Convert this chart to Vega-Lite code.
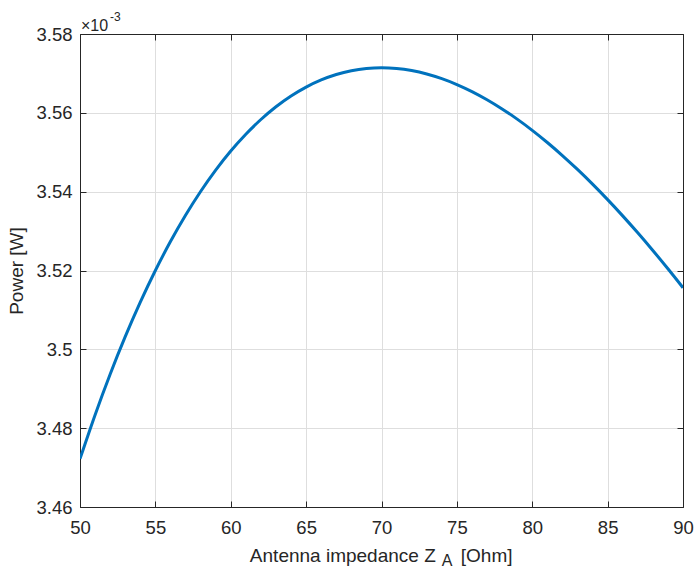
{
  "$schema": "https://vega.github.io/schema/vega-lite/v6.json",
  "width": 603,
  "height": 473,
  "autosize": {"type": "none"},
  "padding": {"left": 80, "top": 34, "right": 13, "bottom": 63},
  "background": "white",
  "config": {
    "font": "Liberation Sans",
    "view": {"stroke": "#262626", "strokeWidth": 1},
    "axis": {
      "domainColor": "#262626",
      "tickColor": "#262626",
      "labelColor": "#262626",
      "titleColor": "#262626",
      "gridColor": "#dedede",
      "labelFont": "Liberation Sans",
      "titleFont": "Liberation Sans",
      "titleFontWeight": "normal"
    }
  },
  "resolve": {"axis": {"x": "independent", "y": "independent"}},
  "layer": [
    {
      "data": {
        "values": [
          {"z": 50, "p": 3.47222}, {"z": 51, "p": 3.48337}, {"z": 52, "p": 3.49369},
          {"z": 53, "p": 3.50321}, {"z": 54, "p": 3.51197}, {"z": 55, "p": 3.52000},
          {"z": 56, "p": 3.52734}, {"z": 57, "p": 3.53401}, {"z": 58, "p": 3.54004},
          {"z": 59, "p": 3.54546}, {"z": 60, "p": 3.55030}, {"z": 61, "p": 3.55457},
          {"z": 62, "p": 3.55831}, {"z": 63, "p": 3.56154}, {"z": 64, "p": 3.56427},
          {"z": 65, "p": 3.56653}, {"z": 66, "p": 3.56834}, {"z": 67, "p": 3.56972},
          {"z": 68, "p": 3.57068}, {"z": 69, "p": 3.57124}, {"z": 70, "p": 3.57143},
          {"z": 71, "p": 3.57125}, {"z": 72, "p": 3.57072}, {"z": 73, "p": 3.56986},
          {"z": 74, "p": 3.56867}, {"z": 75, "p": 3.56718}, {"z": 76, "p": 3.56540},
          {"z": 77, "p": 3.56333}, {"z": 78, "p": 3.56099}, {"z": 79, "p": 3.55840},
          {"z": 80, "p": 3.55556}, {"z": 81, "p": 3.55248}, {"z": 82, "p": 3.54917},
          {"z": 83, "p": 3.54564}, {"z": 84, "p": 3.54191}, {"z": 85, "p": 3.53798},
          {"z": 86, "p": 3.53386}, {"z": 87, "p": 3.52956}, {"z": 88, "p": 3.52508},
          {"z": 89, "p": 3.52043}, {"z": 90, "p": 3.51563}
        ]
      },
      "layer": [
        {
          "mark": {"type": "line", "color": "#0072BD", "strokeWidth": 3, "interpolate": "monotone", "clip": true},
          "encoding": {
            "x": {
              "field": "z", "type": "quantitative",
              "scale": {"domain": [50, 90], "nice": false, "zero": false},
              "axis": {
                "orient": "bottom",
                "values": [50, 55, 60, 65, 70, 75, 80, 85, 90],
                "tickSize": -6,
                "labelPadding": 17,
                "labelFontSize": 18.5,
                "labelFlush": false,
                "title": null,
                "grid": true
              }
            },
            "y": {
              "field": "p", "type": "quantitative",
              "scale": {"domain": [3.46, 3.58], "nice": false, "zero": false},
              "axis": {
                "orient": "left",
                "values": [3.46, 3.48, 3.5, 3.52, 3.54, 3.56, 3.58],
                "format": ".2~f",
                "tickSize": -6,
                "labelPadding": 14,
                "labelFontSize": 18.5,
                "labelFlush": false,
                "title": "Power [W]",
                "titleFontSize": 19,
                "titlePadding": 9,
                "grid": true
              }
            }
          }
        },
        {
          "mark": {"type": "line", "opacity": 0},
          "encoding": {
            "x": {
              "field": "z", "type": "quantitative",
              "scale": {"domain": [50, 90], "nice": false, "zero": false},
              "axis": {"orient": "top", "values": [50, 55, 60, 65, 70, 75, 80, 85, 90], "tickSize": -6, "labels": false, "title": null, "grid": false}
            },
            "y": {
              "field": "p", "type": "quantitative",
              "scale": {"domain": [3.46, 3.58], "nice": false, "zero": false},
              "axis": {"orient": "right", "values": [3.46, 3.48, 3.5, 3.52, 3.54, 3.56, 3.58], "tickSize": -6, "labels": false, "title": null, "grid": false}
            }
          }
        }
      ]
    },
    {
      "data": {"values": [{}]},
      "layer": [
        {
          "mark": {"type": "text", "text": "Antenna impedance Z", "align": "right", "baseline": "alphabetic", "fontSize": 19, "color": "#262626", "dy": 55},
          "encoding": {"x": {"datum": 73.6, "axis": null}, "y": {"datum": 3.46, "axis": null}}
        },
        {
          "mark": {"type": "text", "text": "A", "align": "left", "baseline": "alphabetic", "fontSize": 16, "color": "#262626", "dx": 6, "dy": 59},
          "encoding": {"x": {"datum": 73.6, "axis": null}, "y": {"datum": 3.46, "axis": null}}
        },
        {
          "mark": {"type": "text", "text": "[Ohm]", "align": "left", "baseline": "alphabetic", "fontSize": 19, "color": "#262626", "dx": 25, "dy": 55},
          "encoding": {"x": {"datum": 73.6, "axis": null}, "y": {"datum": 3.46, "axis": null}}
        },
        {
          "mark": {"type": "text", "text": "×10", "align": "left", "baseline": "alphabetic", "fontSize": 16, "color": "#262626", "dx": 1, "dy": -3},
          "encoding": {"x": {"datum": 50, "axis": null}, "y": {"datum": 3.58, "axis": null}}
        },
        {
          "mark": {"type": "text", "text": "-3", "align": "left", "baseline": "alphabetic", "fontSize": 12, "color": "#262626", "dx": 30, "dy": -13},
          "encoding": {"x": {"datum": 50, "axis": null}, "y": {"datum": 3.58, "axis": null}}
        }
      ]
    }
  ]
}
